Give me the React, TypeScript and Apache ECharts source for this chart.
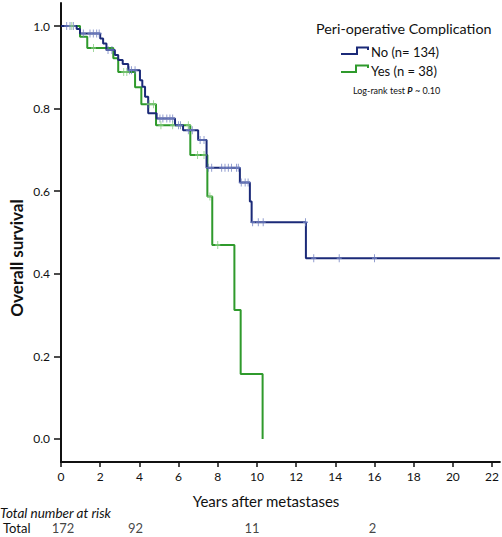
import React, { useEffect, useRef } from "react";
import * as echarts from "echarts";

const xTicks = [0, 2, 4, 6, 8, 10, 12, 14, 16, 18, 20, 22];
const yTicks = [0, 0.2, 0.4, 0.6, 0.8, 1.0];

const noTimes = [0, 0.8, 0.97, 2.0, 2.15, 2.32, 2.75, 2.92, 3.15, 3.43, 4.03, 4.15, 4.29, 4.45, 4.88, 5.82, 6.23, 7.0, 7.43, 9.13, 9.64, 9.73, 12.5, 22.4];
const noSurv = [1.0, 0.993, 0.982, 0.97, 0.958, 0.942, 0.93, 0.918, 0.908, 0.893, 0.869, 0.853, 0.829, 0.789, 0.776, 0.76, 0.748, 0.724, 0.657, 0.621, 0.575, 0.525, 0.4375, 0.4375];
const noCensor = [0.29, 0.46, 0.63, 1.14, 1.48, 1.65, 1.82, 1.95, 2.4, 2.6, 3.5, 3.6, 3.78, 5.05, 5.2, 5.4, 5.56, 5.7, 6.0, 6.1, 6.5, 6.7, 7.1, 7.3, 7.52, 7.69, 8.2, 8.37, 8.54, 8.7, 8.96, 9.05, 9.2, 9.4, 9.55, 9.78, 10.07, 10.32, 12.48, 12.9, 14.2, 16.0];

const yesTimes = [0, 0.97, 1.34, 2.67, 2.92, 3.78, 4.1, 4.85, 6.6, 7.47, 7.72, 8.85, 9.17, 10.29];
const yesSurv = [1.0, 0.974, 0.947, 0.922, 0.889, 0.852, 0.811, 0.76, 0.688, 0.587, 0.47, 0.312, 0.157, 0.0];
const yesCensor = [0.55, 1.66, 3.2, 3.36, 4.5, 4.72, 5.1, 5.7, 6.5, 6.97, 7.3, 7.6, 8.0];

const riskTimes = [0.1, 3.8, 9.75, 15.9];
const riskCounts = [172, 92, 11, 2];

const NO_COLOR = "#1b2a78";
const YES_COLOR = "#2f9a2c";
const NO_CENSOR = "#7080c0";
const YES_CENSOR = "#86cc80";
const FONT = "Lato";

function survAt(times: number[], surv: number[], t: number) {
  let s = surv[0];
  for (let i = 0; i < times.length; i++) if (times[i] <= t) s = surv[i];
  return s;
}

const plus = "path://M3,0 L3,8 M0,4 L6,4";

export default function App() {
  const ref = useRef<HTMLDivElement>(null);
  useEffect(() => {
    const chart = echarts.init(ref.current!, undefined, { renderer: "svg" });
    const option: any = {
      animation: false,
      textStyle: { fontFamily: FONT },
      grid: [
        { left: 61, top: 3, width: 439, height: 459 },
        { left: 61, top: 519, width: 439, height: 18 },
      ],
      xAxis: [
        {
          type: "value",
          gridIndex: 0,
          min: 0,
          max: 22.4,
          axisLine: { show: true, onZero: false, lineStyle: { color: "#111", width: 2 } },
          axisTick: { show: true, length: 5, customValues: xTicks, lineStyle: { color: "#111", width: 1.5 } },
          axisLabel: { customValues: xTicks, margin: 8, fontSize: 12, color: "#111", fontFamily: FONT },
          splitLine: { show: false },
        },
        { type: "value", gridIndex: 1, min: 0, max: 22.4, show: false },
      ],
      yAxis: [
        {
          type: "value",
          gridIndex: 0,
          min: -0.056,
          max: 1.056,
          axisLine: { show: true, onZero: false, lineStyle: { color: "#111", width: 2 } },
          axisTick: { show: true, length: 7, customValues: yTicks, lineStyle: { color: "#111", width: 1.5 } },
          axisLabel: {
            customValues: yTicks,
            margin: 11,
            fontSize: 12,
            color: "#111",
            fontFamily: FONT,
            formatter: (v: number) => v.toFixed(1),
          },
          splitLine: { show: false },
        },
        { type: "value", gridIndex: 1, min: 0, max: 1, show: false },
      ],
      series: [
        {
          type: "line",
          step: "end",
          showSymbol: false,
          data: noTimes.map((t, i) => [t, noSurv[i]]),
          lineStyle: { color: NO_COLOR, width: 2 },
          z: 3,
        },
        {
          type: "line",
          step: "end",
          showSymbol: false,
          data: yesTimes.map((t, i) => [t, yesSurv[i]]),
          lineStyle: { color: YES_COLOR, width: 2 },
          z: 2,
        },
        {
          type: "scatter",
          symbol: plus,
          symbolSize: [5, 8],
          data: noCensor.map((t) => [t, survAt(noTimes, noSurv, t)]),
          itemStyle: { color: "none", borderColor: NO_CENSOR, borderWidth: 1.2 },
          z: 4,
        },
        {
          type: "scatter",
          symbol: plus,
          symbolSize: [5, 8],
          data: yesCensor.map((t) => [t, survAt(yesTimes, yesSurv, t)]),
          itemStyle: { color: "none", borderColor: YES_CENSOR, borderWidth: 1.2 },
          z: 4,
        },
        {
          type: "scatter",
          xAxisIndex: 1,
          yAxisIndex: 1,
          symbolSize: 0,
          data: riskTimes.map((t, i) => [t, 0.5, riskCounts[i]]),
          label: {
            show: true,
            position: "inside",
            formatter: (p: any) => String(p.value[2]),
            fontSize: 13,
            color: "#111",
            fontFamily: FONT,
          },
        },
      ],
      graphic: [
        {
          type: "text",
          x: 16,
          y: 258,
          rotation: Math.PI / 2,
          style: {
            text: "Overall survival",
            font: `bold 17px ${FONT}`,
            fill: "#111",
            textAlign: "center",
            textVerticalAlign: "middle",
          },
        },
        {
          type: "text",
          x: 266,
          y: 501,
          style: {
            text: "Years after metastases",
            font: `15px ${FONT}`,
            fill: "#111",
            textAlign: "center",
            textVerticalAlign: "middle",
          },
        },
        {
          type: "text",
          x: 0,
          y: 513,
          style: {
            text: "Total number at risk",
            font: `italic 13.5px ${FONT}`,
            fill: "#111",
            textAlign: "left",
            textVerticalAlign: "middle",
          },
        },
        {
          type: "text",
          x: 3,
          y: 528,
          style: {
            text: "Total",
            font: `13px ${FONT}`,
            fill: "#111",
            textAlign: "left",
            textVerticalAlign: "middle",
          },
        },
        {
          type: "text",
          x: 316,
          y: 28,
          style: {
            text: "Peri-operative Complication",
            font: `14.3px ${FONT}`,
            fill: "#111",
            textAlign: "left",
            textVerticalAlign: "middle",
          },
        },
        {
          type: "polyline",
          shape: { points: [[341, 54], [357, 54], [357, 47.5], [368, 47.5], [368, 50]] },
          style: { stroke: NO_COLOR, lineWidth: 2, fill: null },
        },
        {
          type: "polyline",
          shape: { points: [[341, 72], [356, 72], [356, 65.5], [368, 65.5], [368, 68]] },
          style: { stroke: YES_COLOR, lineWidth: 2, fill: null },
        },
        {
          type: "text",
          x: 371,
          y: 52,
          style: {
            text: "No (n= 134)",
            font: `13px ${FONT}`,
            fill: "#111",
            textAlign: "left",
            textVerticalAlign: "middle",
          },
        },
        {
          type: "text",
          x: 371,
          y: 71,
          style: {
            text: "Yes (n = 38)",
            font: `13px ${FONT}`,
            fill: "#111",
            textAlign: "left",
            textVerticalAlign: "middle",
          },
        },
        {
          type: "text",
          x: 353,
          y: 90,
          style: {
            text: "{a|Log-rank test }{b|P}{a| ~ 0.10}",
            textAlign: "left",
            textVerticalAlign: "middle",
            rich: {
              a: { fontSize: 9, fontFamily: FONT, fill: "#111" },
              b: { fontSize: 9, fontFamily: FONT, fontStyle: "italic", fontWeight: "bold", fill: "#111" },
            },
          },
        },
      ],
    };
    chart.setOption(option);
    return () => chart.dispose();
  }, []);
  return (
    <div
      ref={ref}
      style={{ position: "absolute", left: 0, top: 0, width: 502, height: 537 }}
    />
  );
}
